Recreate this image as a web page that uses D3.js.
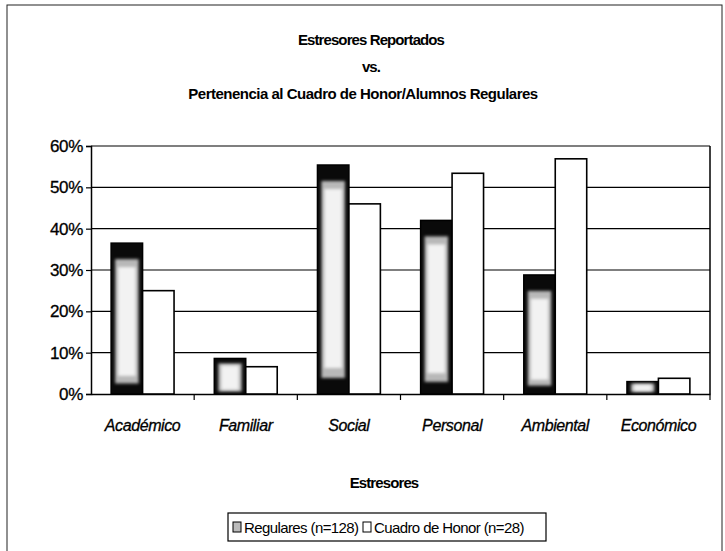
<!DOCTYPE html>
<html><head><meta charset="utf-8">
<script src="https://cdn.jsdelivr.net/npm/d3@7"></script>
<style>
body{margin:0;background:#fff;}
svg{display:block;font-family:"Liberation Sans",Arial,sans-serif;}
</style></head>
<body>
<svg id="chart" width="725" height="551"></svg>
<script>
const categories = ["Académico","Familiar","Social","Personal","Ambiental","Económico"];
const seriesNames = ["Regulares (n=128)","Cuadro de Honor (n=28)"];
const regulares = [0.365, 0.086, 0.554, 0.42, 0.288, 0.03];
const cuadroHonor = [0.25, 0.066, 0.46, 0.534, 0.569, 0.038];
const yTicks = [0, 0.1, 0.2, 0.3, 0.4, 0.5, 0.6];
const titleLines = ["Estresores Reportados","vs.","Pertenencia al Cuadro de Honor/Alumnos Regulares"];
const xTitle = "Estresores";

const svg = d3.select("#chart");
const plot = {left:91, right:710, top:146, bottom:394};

// outer frame
svg.append("rect").attr("x",7).attr("y",5).attr("width",715).attr("height",560)
  .attr("fill","none").attr("stroke","#222").attr("stroke-width",1);

const defs = svg.append("defs");
defs.append("filter").attr("id","blur").attr("x","-50%").attr("y","-50%").attr("width","200%").attr("height","200%")
  .append("feGaussianBlur").attr("stdDeviation",1.6);

const x0 = d3.scaleBand().domain(categories).range([plot.left, plot.right]).padding(0);
const gap = x0.bandwidth()*0.195;
const x1 = d3.scaleBand().domain(seriesNames).range([gap, x0.bandwidth()-gap]).padding(0);
const y = d3.scaleLinear().domain([0,0.6]).range([plot.bottom, plot.top]);

// gridlines
svg.append("g").selectAll("line").data(yTicks.slice(1)).join("line")
  .attr("x1",plot.left).attr("x2",plot.right)
  .attr("y1",d=>y(d)).attr("y2",d=>y(d))
  .attr("stroke","#000").attr("stroke-width",1.2);
// right border
svg.append("line").attr("x1",plot.right).attr("x2",plot.right).attr("y1",plot.top).attr("y2",plot.bottom)
  .attr("stroke","#000").attr("stroke-width",1.5);

// y axis
const yAxis = d3.axisLeft(y).tickValues(yTicks).tickFormat(d3.format(".0%")).tickSize(5).tickPadding(3);
const gy = svg.append("g").attr("transform",`translate(${plot.left},0)`).call(yAxis);
gy.select(".domain").attr("stroke","#000").attr("stroke-width",1.5);
gy.selectAll(".tick line").attr("stroke","#000").attr("stroke-width",1.2);
gy.selectAll(".tick text").attr("font-size",17).attr("fill","#000")
  .attr("font-family","'Liberation Sans',Arial,sans-serif").attr("letter-spacing",-0.3)
  .attr("stroke","#000").attr("stroke-width",0.3);

// x axis
const xAxis = d3.axisBottom(x0).tickSize(0).tickPadding(26);
const gx = svg.append("g").attr("transform",`translate(0,${plot.bottom})`).call(xAxis);
gx.select(".domain").attr("stroke","#000").attr("stroke-width",1.5);
gx.selectAll(".tick text").attr("font-size",16).attr("font-style","italic").attr("fill","#000")
  .attr("font-family","'Liberation Sans',Arial,sans-serif").attr("letter-spacing",-0.4)
  .attr("stroke","#000").attr("stroke-width",0.3);
// category boundary tick marks
svg.append("g").selectAll("line").data(categories).join("line")
  .attr("x1",d=>x0(d)+x0.bandwidth()).attr("x2",d=>x0(d)+x0.bandwidth())
  .attr("y1",plot.bottom).attr("y2",plot.bottom+6)
  .attr("stroke","#000").attr("stroke-width",1.2);

// bars
const rows = categories.map((c,i)=>({cat:c, vals:[regulares[i], cuadroHonor[i]]}));
const groups = svg.append("g").selectAll("g").data(rows).join("g")
  .attr("transform",d=>`translate(${x0(d.cat)},0)`);

// Regulares bars: dark frame with light speckled center
groups.append("rect")
  .attr("x",x1(seriesNames[0])).attr("width",x1.bandwidth())
  .attr("y",d=>y(d.vals[0])).attr("height",d=>y(0)-y(d.vals[0]))
  .attr("fill","#0a0a0a").attr("stroke","#000").attr("stroke-width",1.5);
groups.append("rect")
  .attr("x",x1(seriesNames[0])+4).attr("width",x1.bandwidth()-8)
  .attr("y",d=>{const h=y(0)-y(d.vals[0]); return y(d.vals[0])+Math.max(2,Math.min(h*0.14,16));})
  .attr("height",d=>{const h=y(0)-y(d.vals[0]); return Math.max(0,h-Math.max(2,Math.min(h*0.14,16))-Math.max(2,Math.min(h*0.07,18)));})
  .attr("fill","#b8b8b8").attr("filter","url(#blur)");
groups.append("rect")
  .attr("x",x1(seriesNames[0])+7).attr("width",x1.bandwidth()-14)
  .attr("y",d=>{const h=y(0)-y(d.vals[0]); return y(d.vals[0])+Math.max(3,Math.min(h*0.2,24));})
  .attr("height",d=>{const h=y(0)-y(d.vals[0]); return Math.max(0,h-Math.max(3,Math.min(h*0.2,24))-Math.max(3,Math.min(h*0.12,26)));})
  .attr("fill","#f2f2f2").attr("filter","url(#blur)");

// Cuadro de Honor bars
groups.append("rect")
  .attr("x",x1(seriesNames[1])).attr("width",x1.bandwidth())
  .attr("y",d=>y(d.vals[1])).attr("height",d=>y(0)-y(d.vals[1]))
  .attr("fill","#fff").attr("stroke","#000").attr("stroke-width",1.6);

// titles
const titleSpacing = [-0.9, -0.9, -0.5];
svg.append("g").selectAll("text").data(titleLines).join("text")
  .attr("x",(d,i)=>i===2?363:371).attr("y",(d,i)=>45+i*27)
  .attr("text-anchor","middle").attr("font-size",15).attr("font-weight","bold")
  .attr("letter-spacing",(d,i)=>titleSpacing[i]).attr("fill","#000").text(d=>d);

svg.append("text").attr("x",384).attr("y",488).attr("text-anchor","middle")
  .attr("font-size",15).attr("font-weight","bold").attr("letter-spacing",-0.9).text(xTitle);

// legend
const lg = svg.append("g");
lg.append("rect").attr("x",228).attr("y",513).attr("width",318).attr("height",28)
  .attr("fill","#fff").attr("stroke","#000").attr("stroke-width",1.2);
const legendX = [233, 363];
const items = lg.selectAll("g").data(seriesNames).join("g")
  .attr("transform",(d,i)=>`translate(${legendX[i]},527)`);
items.append("rect").attr("x",0).attr("y",-5).attr("width",8).attr("height",10)
  .attr("fill",(d,i)=>i===0?"#bbb":"#fff").attr("stroke","#000").attr("stroke-width",1);
items.append("text").attr("x",11).attr("y",5.5).attr("font-size",15)
  .attr("letter-spacing",-0.6).attr("fill","#000").text(d=>d);
</script>
</body></html>
